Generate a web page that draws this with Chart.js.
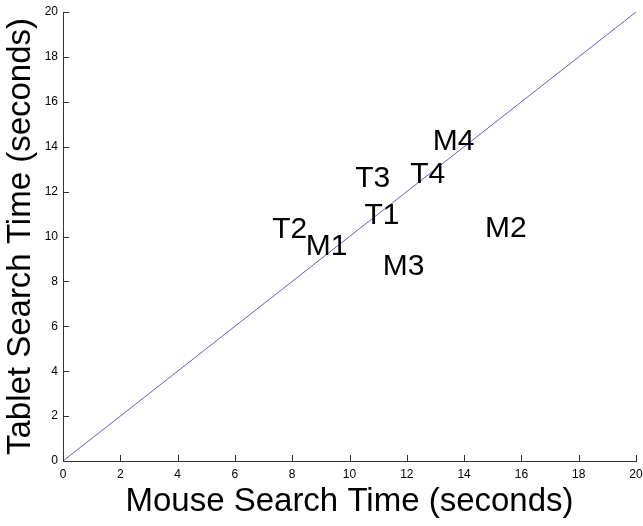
<!DOCTYPE html>
<html>
<head>
<meta charset="utf-8">
<script src="https://cdn.jsdelivr.net/npm/chart.js@4/dist/chart.umd.min.js"></script>
<style>
  html, body { margin: 0; padding: 0; background: #fff; }
  #wrap { width: 643px; height: 526px; }
</style>
</head>
<body>
<div id="wrap"><canvas id="grafico"></canvas></div>
<script>
// condicoes (rotulos) e tempos medios em segundos
let rotulos = ['T1', 'T2', 'T3', 'T4', 'M1', 'M2', 'M3', 'M4'];
let tempoMouse = [10.52, 7.3, 10.2, 12.12, 8.47, 14.73, 11.16, 12.91];
let tempoTablet = [10.91, 10.29, 12.56, 12.76, 9.55, 10.36, 8.64, 14.22];
let linhaRef = [0, 20];
let ticksEixo = [0, 2, 4, 6, 8, 10, 12, 14, 16, 18, 20];

const pontos = rotulos.map((r, i) => ({x: tempoMouse[i], y: tempoTablet[i], r: r}));

// escreve os rotulos no lugar dos pontos e faz os ticks para dentro
const rotulosPlugin = {
  id: 'rotulos',
  afterDatasetsDraw(chart) {
    const ctx = chart.ctx;
    const xs = chart.scales.x, ys = chart.scales.y;
    ctx.save();
    ctx.font = '30px "Liberation Sans", Arial, sans-serif';
    ctx.fillStyle = '#000';
    ctx.textAlign = 'left';
    ctx.textBaseline = 'middle';
    pontos.forEach(p => {
      ctx.fillText(p.r, xs.getPixelForValue(p.x), ys.getPixelForValue(p.y));
    });
    ctx.restore();
  },
  afterDraw(chart) {
    const ctx = chart.ctx;
    const xs = chart.scales.x, ys = chart.scales.y;
    ctx.save();
    ctx.strokeStyle = '#333';
    ctx.lineWidth = 1;
    ctx.beginPath();
    ticksEixo.forEach(t => {
      const px = Math.round(xs.getPixelForValue(t)) + 0.5;
      ctx.moveTo(px, ys.bottom);
      ctx.lineTo(px, ys.bottom - 6);
      const py = Math.round(ys.getPixelForValue(t)) + 0.5;
      ctx.moveTo(xs.left, py);
      ctx.lineTo(xs.left + 6, py);
    });
    ctx.stroke();
    ctx.restore();
  }
};

var grafico = new Chart(document.getElementById('grafico'), {
  type: 'scatter',
  data: {
    datasets: [
      {
        type: 'line',
        data: linhaRef.map(v => ({x: v, y: v})),
        borderColor: 'rgb(95,95,205)',
        borderWidth: 1,
        pointRadius: 0,
        fill: false
      },
      {
        data: pontos,
        pointRadius: 0
      }
    ]
  },
  options: {
    responsive: true,
    maintainAspectRatio: false,
    animation: false,
    layout: { padding: { top: 12, right: 7, left: 0, bottom: 0 } },
    plugins: { legend: { display: false }, tooltip: { enabled: false } },
    scales: {
      x: {
        type: 'linear', min: 0, max: 20,
        afterBuildTicks: s => { s.ticks = ticksEixo.map(v => ({value: v})); },
        afterFit: s => { s.height = 65; s.paddingRight = 0; s.paddingLeft = 0; },
        grid: { display: false, drawTicks: false },
        border: { display: true, color: '#333', width: 1 },
        ticks: { padding: 6, color: '#000', font: { family: '"Liberation Sans", Arial, sans-serif', size: 12 } },
        title: { display: true, text: 'Mouse Search Time (seconds)', color: '#000',
          padding: { top: 0, bottom: 4 },
          font: { family: '"Liberation Sans", Arial, sans-serif', size: 33 } }
      },
      y: {
        type: 'linear', min: 0, max: 20,
        afterBuildTicks: s => { s.ticks = ticksEixo.map(v => ({value: v})); },
        afterFit: s => { s.width = 63; s.paddingTop = 0; s.paddingBottom = 0; },
        grid: { display: false, drawTicks: false },
        border: { display: true, color: '#333', width: 1 },
        ticks: { padding: 5, color: '#000', font: { family: '"Liberation Sans", Arial, sans-serif', size: 12 } },
        title: { display: true, text: 'Tablet Search Time (seconds)', color: '#000',
          padding: { top: 1, bottom: 0 },
          font: { family: '"Liberation Sans", Arial, sans-serif', size: 33 } }
      }
    }
  },
  plugins: [rotulosPlugin]
});
</script>
</body>
</html>
